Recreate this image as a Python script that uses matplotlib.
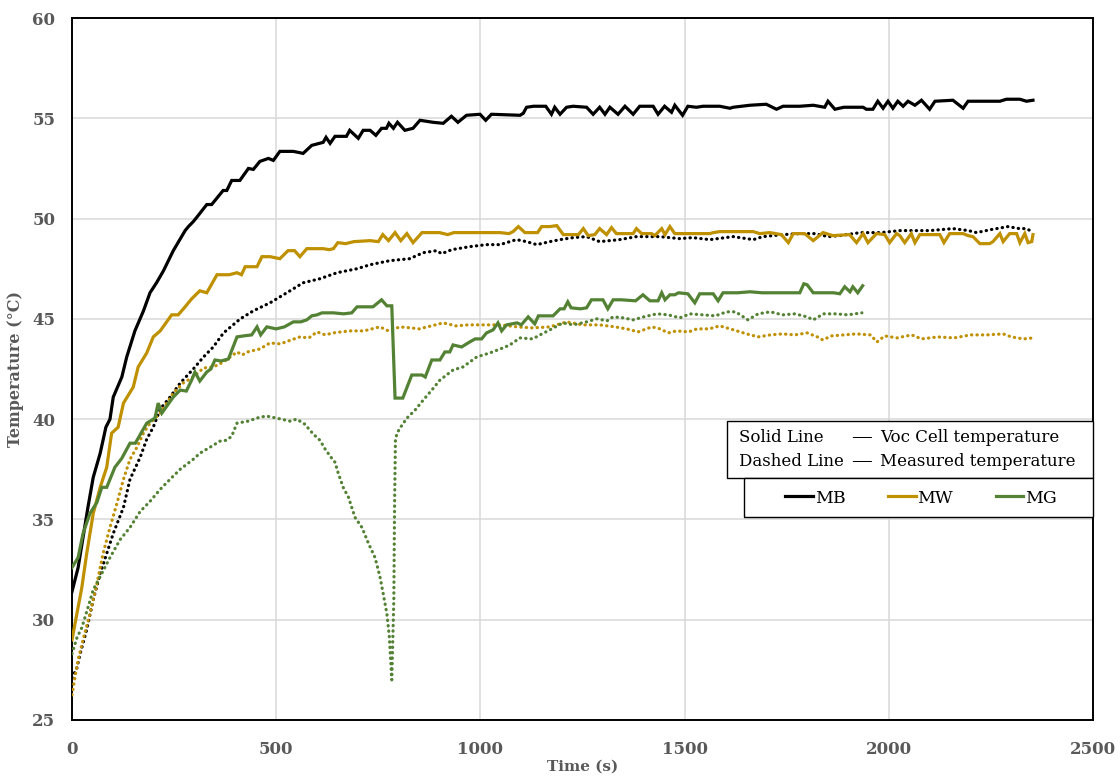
import matplotlib
matplotlib.use("Agg")
import matplotlib.pyplot as plt
from matplotlib.patches import Rectangle

# MB - Voc cell temperature (solid)
mb_voc_t = [0, 15, 39, 52, 69, 83, 93, 101, 122, 134, 154, 175, 191, 207, 224, 248, 277, 285, 297,
            305, 330, 342, 354, 370, 379, 391, 411, 432, 444, 460, 481, 493, 509, 542, 566, 587, 615,
            622, 632, 644, 672, 680, 701, 713, 730, 744, 758, 770, 776, 787, 797, 815, 835, 852, 884,
            909, 929, 945, 966, 999, 1013, 1027, 1097, 1105, 1113, 1130, 1160, 1174, 1182, 1195, 1211,
            1227, 1260, 1276, 1292, 1305, 1317, 1337, 1354, 1374, 1390, 1423, 1435, 1451, 1468, 1476,
            1495, 1508, 1529, 1545, 1586, 1611, 1619, 1660, 1700, 1725, 1741, 1782, 1815, 1843, 1851,
            1868, 1890, 1937, 1945, 1961, 1973, 1986, 1998, 2010, 2022, 2035, 2047, 2064, 2080, 2100,
            2113, 2157, 2182, 2194, 2272, 2288, 2321, 2337, 2353]
mb_voc = [31.4, 32.6, 35.6, 37.1, 38.3, 39.6, 40.0, 41.1, 42.1, 43.1, 44.4, 45.4, 46.3, 46.8, 47.4,
          48.4, 49.4, 49.6, 49.85, 50.05, 50.7, 50.7, 51.0, 51.4, 51.4, 51.9, 51.9, 52.5, 52.45, 52.85,
          53.0, 52.9, 53.35, 53.35, 53.25, 53.65, 53.8, 54.05, 53.75, 54.1, 54.1, 54.4, 54.0, 54.4,
          54.4, 54.15, 54.5, 54.5, 54.75, 54.5, 54.8, 54.4, 54.5, 54.9, 54.8, 54.75, 55.1, 54.8, 55.15,
          55.2, 54.9, 55.2, 55.15, 55.25, 55.55, 55.6, 55.6, 55.2, 55.55, 55.2, 55.55, 55.6, 55.55,
          55.2, 55.55, 55.2, 55.55, 55.2, 55.6, 55.2, 55.6, 55.6, 55.2, 55.6, 55.3, 55.65, 55.15, 55.6,
          55.55, 55.6, 55.6, 55.5, 55.55, 55.65, 55.7, 55.45, 55.6, 55.6, 55.65, 55.55, 55.85, 55.45,
          55.55, 55.55, 55.45, 55.45, 55.85, 55.5, 55.85, 55.5, 55.85, 55.6, 55.85, 55.65, 55.9, 55.45,
          55.85, 55.9, 55.5, 55.85, 55.85, 55.95, 55.95, 55.85, 55.9]

# MB - measured temperature (dotted)
mb_meas_t = [0, 12, 20, 36, 52, 69, 85, 101, 126, 142, 167, 183, 199, 216, 240, 265, 297, 322, 346,
             371, 412, 444, 485, 534, 566, 607, 649, 698, 730, 778, 827, 860, 893, 905, 930, 974, 1015,
             1048, 1088, 1113, 1138, 1170, 1195, 1227, 1260, 1292, 1341, 1382, 1439, 1488, 1520, 1562,
             1619, 1668, 1692, 1741, 1782, 1820, 1851, 1880, 1930, 1980, 2027, 2100, 2157, 2195, 2215,
             2250, 2292, 2320, 2335, 2353]
mb_meas = [27.1, 27.6, 28.3, 29.5, 31.0, 32.3, 33.3, 34.3, 35.6, 37.0, 38.1, 39.0, 39.6, 40.5, 41.1,
           41.8, 42.5, 43.1, 43.6, 44.3, 45.0, 45.4, 45.8, 46.4, 46.8, 47.0, 47.3, 47.5, 47.7, 47.9,
           48.0, 48.3, 48.4, 48.25, 48.45, 48.6, 48.7, 48.7, 48.95, 48.85, 48.7, 48.85, 48.95, 49.05,
           49.1, 48.85, 48.95, 49.1, 49.1, 49.0, 49.05, 48.95, 49.1, 48.95, 49.1, 49.2, 49.25, 49.25,
           49.1, 49.15, 49.3, 49.3, 49.4, 49.4, 49.5, 49.4, 49.3, 49.45, 49.6, 49.5, 49.5, 49.35]

# MW - Voc cell temperature (solid)
mw_voc_t = [0, 12, 24, 36, 52, 69, 85, 97, 113, 126, 150, 162, 183, 199, 216, 244, 260, 277, 293,
            313, 330, 355, 385, 404, 415, 424, 453, 465, 485, 509, 529, 545, 558, 575, 615, 630, 640,
            651, 670, 690, 730, 750, 761, 775, 791, 805, 820, 835, 857, 900, 920, 935, 1048, 1070,
            1080, 1093, 1109, 1140, 1150, 1170, 1187, 1203, 1240, 1252, 1264, 1280, 1292, 1309, 1321,
            1333, 1374, 1382, 1395, 1419, 1427, 1444, 1452, 1464, 1476, 1562, 1570, 1586, 1668, 1684,
            1709, 1737, 1754, 1766, 1794, 1815, 1839, 1863, 1904, 1921, 1937, 1949, 1970, 1990, 2002,
            2019, 2027, 2039, 2055, 2064, 2076, 2125, 2135, 2149, 2182, 2194, 2206, 2223, 2247, 2255,
            2272, 2280, 2296, 2313, 2321, 2333, 2341, 2350, 2353]
mw_voc = [29.0, 30.3, 31.6, 33.3, 35.3, 36.6, 37.6, 39.3, 39.6, 40.8, 41.6, 42.6, 43.3, 44.1, 44.4,
          45.2, 45.2, 45.6, 46.0, 46.4, 46.3, 47.2, 47.2, 47.3, 47.2, 47.6, 47.6, 48.1, 48.1, 48.0,
          48.4, 48.4, 48.1, 48.5, 48.5, 48.45, 48.5, 48.8, 48.75, 48.85, 48.9, 48.85, 49.2, 48.9,
          49.3, 48.9, 49.25, 48.8, 49.3, 49.3, 49.2, 49.3, 49.3, 49.25, 49.35, 49.6, 49.3, 49.3, 49.6,
          49.6, 49.65, 49.2, 49.2, 49.5, 49.15, 49.2, 49.5, 49.2, 49.55, 49.25, 49.25, 49.5, 49.25,
          49.25, 49.15, 49.5, 49.2, 49.6, 49.25, 49.25, 49.3, 49.35, 49.35, 49.25, 49.3, 49.2, 48.8,
          49.25, 49.25, 48.9, 49.3, 49.15, 49.2, 48.8, 49.25, 48.8, 49.25, 49.2, 48.8, 49.25, 49.15,
          48.8, 49.25, 48.8, 49.2, 49.2, 48.8, 49.25, 49.25, 49.15, 49.1, 48.75, 48.75, 48.85, 49.25,
          48.85, 49.25, 49.25, 48.8, 49.25, 48.8, 48.85, 49.2]

# MW - measured temperature (dotted)
mw_meas_t = [0, 7, 15, 27, 44, 61, 76, 93, 110, 126, 142, 159, 175, 191, 216, 248, 272, 297, 322,
             346, 371, 404, 417, 430, 460, 485, 510, 530, 558, 580, 600, 620, 640, 680, 715, 754, 775,
             803, 830, 850, 880, 909, 940, 970, 1006, 1050, 1090, 1128, 1170, 1211, 1250, 1292, 1330,
             1358, 1386, 1420, 1440, 1460, 1480, 1510, 1530, 1560, 1586, 1620, 1652, 1680, 1710, 1740,
             1770, 1800, 1825, 1838, 1860, 1890, 1920, 1955, 1971, 1990, 2020, 2056, 2080, 2120, 2160,
             2200, 2240, 2280, 2300, 2330, 2353]
mw_meas = [26.25, 27.1, 28.0, 29.0, 30.3, 31.8, 33.3, 34.6, 35.8, 37.0, 38.0, 38.6, 39.3, 39.8,
           40.3, 41.3, 41.8, 42.1, 42.55, 42.6, 42.85, 43.35, 43.2, 43.35, 43.5, 43.8, 43.75, 43.9,
           44.1, 44.05, 44.35, 44.2, 44.3, 44.4, 44.4, 44.6, 44.4, 44.6, 44.55, 44.5, 44.65, 44.8,
           44.65, 44.7, 44.7, 44.7, 44.6, 44.55, 44.6, 44.85, 44.7, 44.7, 44.6, 44.5, 44.35, 44.6,
           44.5, 44.3, 44.4, 44.35, 44.5, 44.5, 44.65, 44.45, 44.25, 44.1, 44.2, 44.25, 44.2, 44.3,
           44.1, 43.95, 44.15, 44.2, 44.25, 44.2, 43.85, 44.15, 44.05, 44.2, 44.0, 44.1, 44.05, 44.2,
           44.2, 44.25, 44.1, 44.0, 44.05]

# MG - Voc cell temperature (solid)
mg_voc_t = [0, 15, 27, 44, 61, 73, 85, 105, 122, 142, 155, 183, 203, 211, 220, 248, 265, 280, 293,
            301, 313, 330, 340, 350, 365, 383, 404, 420, 440, 453, 462, 477, 500, 520, 542, 560, 575,
            587, 600, 612, 640, 665, 685, 698, 737, 758, 771, 783, 791, 810, 832, 857, 865, 881, 901,
            913, 925, 933, 954, 974, 987, 1003, 1015, 1031, 1043, 1052, 1064, 1090, 1100, 1117, 1133,
            1142, 1178, 1195, 1205, 1214, 1222, 1245, 1260, 1272, 1300, 1312, 1325, 1345, 1380, 1398,
            1415, 1435, 1444, 1452, 1464, 1476, 1485, 1508, 1525, 1537, 1570, 1582, 1594, 1630, 1660,
            1690, 1720, 1750, 1782, 1792, 1800, 1815, 1865, 1880, 1892, 1905, 1912, 1924, 1936]
mg_voc = [32.6, 33.1, 34.3, 35.3, 35.85, 36.6, 36.6, 37.6, 38.05, 38.8, 38.8, 39.8, 40.05, 40.8,
          40.3, 41.1, 41.45, 41.4, 41.95, 42.35, 41.9, 42.35, 42.5, 42.95, 42.9, 43.0, 44.1, 44.15,
          44.2, 44.6, 44.2, 44.6, 44.5, 44.6, 44.85, 44.85, 44.95, 45.15, 45.2, 45.3, 45.3, 45.25,
          45.3, 45.6, 45.6, 45.95, 45.65, 45.65, 41.05, 41.05, 42.2, 42.2, 42.1, 42.95, 42.95, 43.35,
          43.35, 43.7, 43.6, 43.85, 44.0, 44.0, 44.3, 44.45, 44.8, 44.4, 44.7, 44.8, 44.7, 45.1, 44.75,
          45.15, 45.15, 45.5, 45.5, 45.85, 45.55, 45.5, 45.55, 45.95, 45.95, 45.5, 45.95, 45.95, 45.9,
          46.2, 45.9, 45.9, 46.3, 45.95, 46.2, 46.2, 46.3, 46.25, 45.8, 46.25, 46.25, 45.9, 46.3, 46.3,
          46.35, 46.3, 46.3, 46.3, 46.3, 46.75, 46.7, 46.3, 46.3, 46.25, 46.6, 46.35, 46.6, 46.3, 46.65]

# MG - measured temperature (dotted)
mg_meas_t = [0, 12, 24, 36, 52, 69, 93, 118, 142, 167, 191, 216, 240, 265, 297, 313, 338, 362, 379,
             391, 404, 431, 460, 477, 501, 534, 550, 570, 591, 607, 620, 636, 644, 652, 664, 677, 693,
             710, 726, 742, 754, 762, 771, 777, 783, 788, 790, 792, 796, 803, 820, 840, 860, 881, 901,
             933, 957, 991, 1023, 1055, 1072, 1097, 1128, 1146, 1170, 1202, 1227, 1260, 1285, 1310,
             1325, 1350, 1374, 1400, 1432, 1460, 1488, 1513, 1545, 1575, 1603, 1625, 1640, 1655, 1680,
             1710, 1740, 1770, 1800, 1815, 1840, 1870, 1900, 1934]
mg_meas = [28.3, 29.1, 29.6, 30.4, 31.5, 32.15, 33.1, 34.0, 34.6, 35.4, 35.9, 36.5, 37.0, 37.5,
           38.0, 38.3, 38.6, 38.9, 38.95, 39.15, 39.8, 39.9, 40.1, 40.15, 40.05, 39.9, 40.0, 39.75,
           39.25, 38.95, 38.5, 38.05, 37.85, 37.3, 36.6, 36.1, 35.1, 34.6, 33.8, 33.1, 32.15, 31.3,
           30.3, 29.15, 27.0, 31.0, 36.0, 39.0, 39.3, 39.55, 40.05, 40.45, 40.95, 41.45, 41.95, 42.45,
           42.6, 43.1, 43.3, 43.55, 43.7, 44.05, 44.0, 44.2, 44.45, 44.8, 44.7, 44.85, 45.0, 44.9, 45.1,
           45.05, 44.95, 45.1, 45.25, 45.2, 45.05, 45.25, 45.2, 45.15, 45.35, 45.35, 45.15, 44.95,
           45.25, 45.35, 45.2, 45.25, 45.1, 44.95, 45.25, 45.25, 45.2, 45.3]

series_names = ["MB", "MW", "MG"]
colors = ["#000000", "#BF9000", "#548235"]

x_ticks = [0, 500, 1000, 1500, 2000, 2500]
y_ticks = [25, 30, 35, 40, 45, 50, 55, 60]

serif = ["DejaVu Serif"]
grey = "#595959"

fig = plt.figure(figsize=(11.2, 7.76), dpi=100)
ax = fig.add_axes([72 / 1120, 1 - 720 / 776, (1093 - 72) / 1120, (720 - 18) / 776])

dot = (0, (0.1, 1.6))
voc_data = [(mb_voc_t, mb_voc), (mw_voc_t, mw_voc), (mg_voc_t, mg_voc)]
meas_data = [(mb_meas_t, mb_meas), (mw_meas_t, mw_meas), (mg_meas_t, mg_meas)]

handles = []
for (tm, vm), c in zip(meas_data, colors):
    ax.plot(tm, vm, color=c, lw=2.3, linestyle=dot, dash_capstyle="round", zorder=3)
for (tv, vv), c in zip(voc_data, colors):
    h, = ax.plot(tv, vv, color=c, lw=2.3, solid_joinstyle="miter", zorder=4)
    handles.append(h)

ax.set_xlim(0, 2500)
ax.set_ylim(25, 60)
ax.set_xticks(x_ticks)
ax.set_yticks(y_ticks)
ax.grid(True, color="#D9D9D9", lw=1.1)
ax.set_axisbelow(True)
for s in ax.spines.values():
    s.set_color("black")
    s.set_linewidth(1.4)
ax.tick_params(length=0, labelsize=12, labelcolor=grey)
ax.tick_params(axis="y", pad=12)
ax.tick_params(axis="x", pad=15)
for lab in ax.get_xticklabels() + ax.get_yticklabels():
    lab.set_family(serif)
    lab.set_fontweight("bold")

ax.set_xlabel("Time (s)", family=serif, fontweight="bold", color=grey, fontsize=11, labelpad=1)
ax.set_ylabel("Temperature (°C)", family=serif, fontweight="bold", color=grey, fontsize=11.5,
              labelpad=6)

# legend boxes
W, H = 1120, 776
fig.add_artist(Rectangle((727 / W, 1 - 478 / H), 366 / W, 57 / H, transform=fig.transFigure,
                         facecolor="white", edgecolor="black", lw=1.0, zorder=1))
fig.add_artist(Rectangle((744 / W, 1 - 517 / H), 349 / W, 39 / H, transform=fig.transFigure,
                         facecolor="white", edgecolor="black", lw=1.0, zorder=1))
rows = [("Solid Line", "Voc Cell temperature", 438), ("Dashed Line", "Measured temperature", 461)]
for left, right, yy in rows:
    fig.text(739 / W, 1 - yy / H, left, family=serif, fontsize=12, va="center", ha="left", zorder=3)
    fig.text(851 / W, 1 - yy / H, "—", family=serif, fontsize=15, va="center", ha="left", zorder=3)
    fig.text(880 / W, 1 - yy / H, right, family=serif, fontsize=12, va="center", ha="left", zorder=3)

leg = fig.legend(handles, series_names, loc="center", bbox_to_anchor=(921 / W, 1 - 498 / H),
                 ncol=3, frameon=False, prop={"family": serif, "size": 12.5}, handlelength=1.6,
                 handletextpad=0.1, columnspacing=2.45, borderaxespad=0)
leg.set_zorder(4)

fig.savefig("out.png", dpi=100)
